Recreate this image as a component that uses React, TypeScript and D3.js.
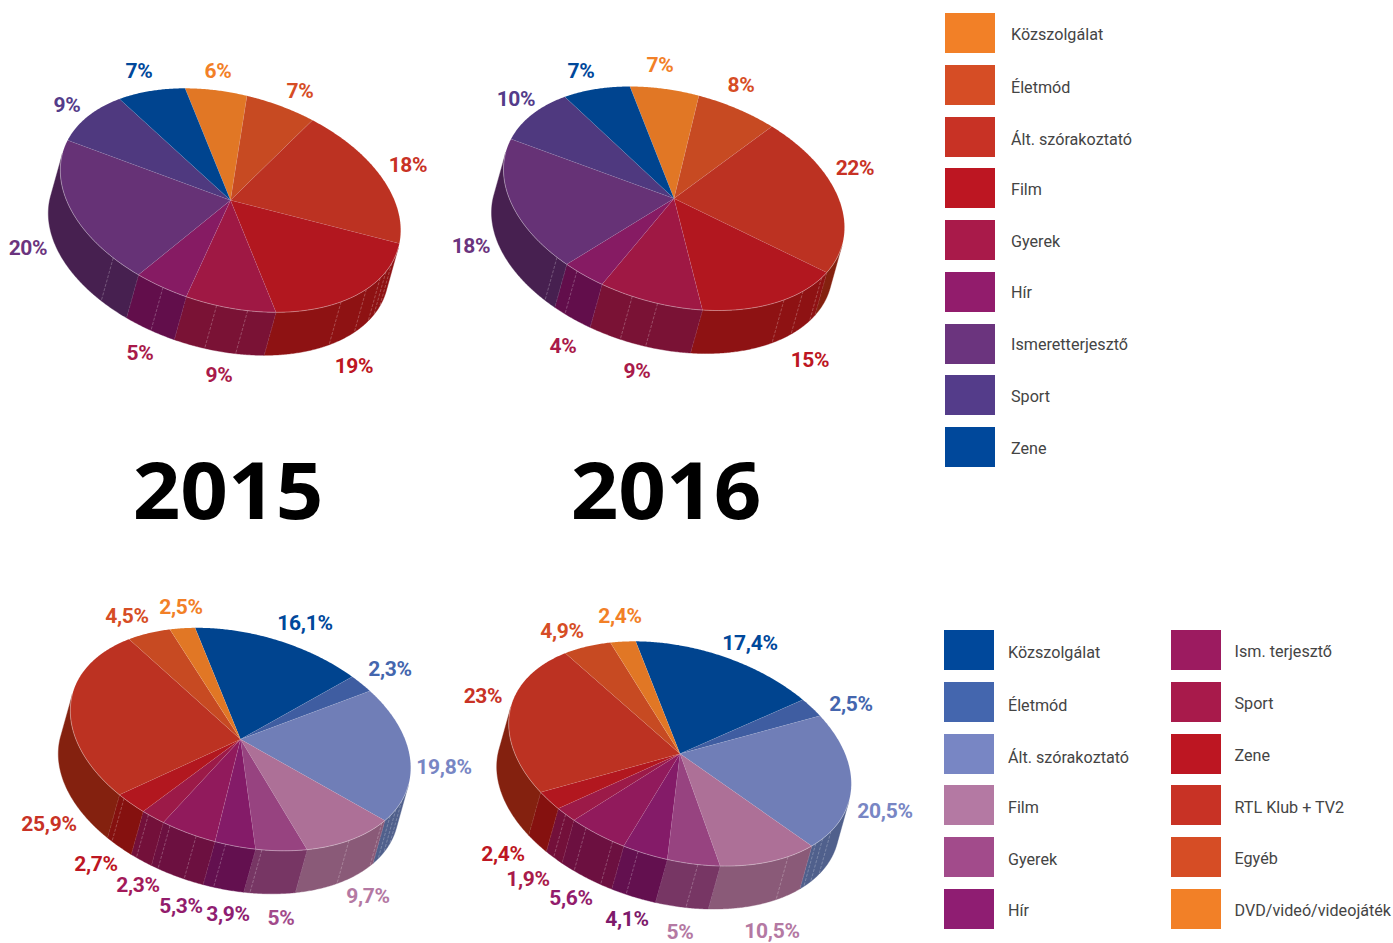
import React from "react";
import * as d3 from "d3";

// ---------- data ----------
const legendTop = ["Közszolgálat", "Életmód", "Ált. szórakoztató", "Film", "Gyerek", "Hír", "Ismeretterjesztő", "Sport", "Zene"];
const legendBottomA = ["Közszolgálat", "Életmód", "Ált. szórakoztató", "Film", "Gyerek", "Hír"];
const legendBottomB = ["Ism. terjesztő", "Sport", "Zene", "RTL Klub + TV2", "Egyéb", "DVD/videó/videojáték"];

// slice shares as measured on the picture (the printed labels are rounded)
const values2015 = [5.85, 6.45, 19, 18.7, 8.5, 4.9, 20.6, 9, 7];
const values2016 = [6.5, 7.4, 22.6, 15, 9.6, 3.9, 18.9, 9.2, 6.9];
const valuesB2015 = [15.7, 2.35, 20.15, 9.7, 5, 3.8, 5.1, 2.2, 2.9, 26.05, 4.55, 2.5];
const valuesB2016 = [16.9, 2.5, 20.8, 10.2, 4.95, 4.15, 5.3, 1.95, 2.55, 23.2, 5, 2.5];

const labels2015 = ["6%", "7%", "18%", "19%", "9%", "5%", "20%", "9%", "7%"];
const labels2016 = ["7%", "8%", "22%", "15%", "9%", "4%", "18%", "10%", "7%"];
const labelsB2015 = ["16,1%", "2,3%", "19,8%", "9,7%", "5%", "3,9%", "5,3%", "2,3%", "2,7%", "25,9%", "4,5%", "2,5%"];
const labelsB2016 = ["17,4%", "2,5%", "20,5%", "10,5%", "5%", "4,1%", "5,6%", "1,9%", "2,4%", "23%", "4,9%", "2,4%"];

// positions of wall seams, as share of the pie (0-100)
const seamsA = [34.5, 36, 37.2, 39.6, 43.05, 52.7, 55.6, 60.8, 66.4];
const seamsB = [37.5, 40.5, 43, 55.7, 58.1, 63.8, 66.2];
const seamsC = [34.5, 36, 37.2, 38.7, 43.3, 52.3, 55.7, 58.5, 61.1, 63.4, 66.3];
const seamsD = [37, 38.5, 39.6, 43.3, 52.5, 58.1, 60.6, 63.4, 65.8];

// ---------- colours ----------
const swatchTop = ["#F28027", "#D64D25", "#C83225", "#BD1622", "#A91A4A", "#921C6C", "#6B347E", "#543C8A", "#00489B"];
const faceTop = ["#E17725", "#C74A22", "#BC3222", "#B2171F", "#9F1844", "#861B63", "#663276", "#4F397F", "#00448F"];
const wallTop = ["#A85A1C", "#94371A", "#84210F", "#8E1213", "#7A1235", "#620E4B", "#472050", "#3A2A5E", "#00306A"];
const labelTop = ["#F28027", "#D64D25", "#C83225", "#BD1622", "#A91A4A", "#A91A4A", "#6B347E", "#543C8A", "#00489B"];

const swatchBottomA = ["#00489B", "#4466AE", "#7886C4", "#B479A3", "#A24B8B", "#8F1D72"];
const swatchBottomB = ["#9C1B60", "#A81A4B", "#BD1622", "#C83225", "#D64D25", "#F28027"];
const faceBottom = ["#00448F", "#3F5DA1", "#707EB7", "#AD7097", "#974380", "#841B68", "#911A5C", "#9C1A48", "#B2171F", "#BC3222", "#C74A22", "#E17725"];
const wallBottom = ["#00306A", "#2E4478", "#50608C", "#8A5A78", "#773664", "#63104F", "#6C1040", "#73103A", "#85110F", "#84210F", "#94371A", "#A85A1C"];
const labelB2015 = ["#00489B", "#4466AE", "#7886C4", "#B479A3", "#A24B8B", "#8F1D72", "#921C6C", "#A31A5A", "#BD1622", "#C83225", "#D64D25", "#F28027"];
const labelB2016 = ["#00489B", "#4466AE", "#7886C4", "#B479A3", "#B479A3", "#7E1A6B", "#921C6C", "#A91A4A", "#BD1622", "#C83225", "#D64D25", "#F28027"];

// ---------- layout ----------
const W = 1393, H = 943;
const DEG = Math.PI / 180;

type PieCfg = {
  values: number[]; labels: string[]; seams: number[];
  face: string[]; wall: string[]; labelColor: string[];
  cx: number; cy: number; sx: number; r: number; q: number; dx: number; dy: number; start: number;
  labelPos: [number, number][];
};

const pies: PieCfg[] = [
  {
    values: values2015, labels: labels2015, seams: seamsA, face: faceTop, wall: wallTop, labelColor: labelTop,
    cx: 230.5, cy: 200.3, sx: 170.2, r: 30, q: 107.9, dx: -12, dy: 43, start: -15.5,
    labelPos: [[218, 71], [300, 91], [408, 165], [354, 366], [219, 375], [140, 353], [28, 248], [67, 105], [139, 71]],
  },
  {
    values: values2016, labels: labels2016, seams: seamsB, face: faceTop, wall: wallTop, labelColor: labelTop,
    cx: 674, cy: 198.5, sx: 170.5, r: 29, q: 108.2, dx: -12, dy: 43, start: -15,
    labelPos: [[660, 65], [741, 85], [855, 168], [810, 360], [637, 371], [563, 346], [471, 246], [516, 99], [581, 71]],
  },
  {
    values: valuesB2015, labels: labelsB2015, seams: seamsC, face: faceBottom, wall: wallBottom, labelColor: labelB2015,
    cx: 240.5, cy: 739.3, sx: 170.2, r: 28.5, q: 107.8, dx: -12, dy: 43, start: -15.5,
    labelPos: [[305, 623], [390, 669], [444, 767], [368, 896], [281, 918], [228, 914], [181, 906], [138, 885], [96, 864], [49, 824], [127, 616], [181, 607]],
  },
  {
    values: valuesB2016, labels: labelsB2016, seams: seamsD, face: faceBottom, wall: wallBottom, labelColor: labelB2016,
    cx: 680, cy: 753.7, sx: 171.3, r: 30, q: 108.3, dx: -12, dy: 43, start: -15,
    labelPos: [[750, 643], [851, 704], [885, 811], [772, 931], [680, 932], [627, 919], [571, 898], [528, 879], [503, 854], [483, 696], [562, 631], [620, 616]],
  },
];

const labelFont = "Roboto, sans-serif";

function Pie({ c }: { c: PieCfg }) {
  const start = c.start * DEG;
  const arcs = d3.pie<number>().sort(null).startAngle(start).endAngle(start + 2 * Math.PI)(c.values);
  const share = d3.scaleLinear().domain([0, 100]).range([start, start + 2 * Math.PI]);
  const pt = (a: number): [number, number] => [
    c.cx + c.sx * Math.sin(a),
    c.cy + c.r * Math.sin(a) - c.q * Math.cos(a),
  ];
  const visible = (a: number) => {
    const tx = c.sx * Math.cos(a), ty = c.r * Math.cos(a) + c.q * Math.sin(a);
    return tx * c.dy - ty * c.dx < 0;
  };
  const line = d3.line();
  const sample = (a0: number, a1: number) => {
    const n = Math.max(2, Math.ceil((a1 - a0) / (0.5 * DEG)));
    return d3.range(n + 1).map((i) => a0 + ((a1 - a0) * i) / n);
  };
  const shift = (p: [number, number]): [number, number] => [p[0] + c.dx, p[1] + c.dy];

  const walls: React.ReactNode[] = [];
  const rims: React.ReactNode[] = [];
  arcs.forEach((d, i) => {
    const vis = sample(d.startAngle, d.endAngle).filter(visible);
    if (vis.length < 2) return;
    const topEdge = vis.map(pt);
    const poly = [...topEdge, ...topEdge.slice().reverse().map(shift)];
    walls.push(<path key={i} d={line(poly) + "Z"} fill={c.wall[i]} stroke={c.wall[i]} strokeWidth={0.4} />);
    rims.push(<path key={"r" + i} d={line(topEdge)!} fill="none" stroke="#fff" strokeOpacity={0.45} strokeWidth={0.7} />);
    const a = d.endAngle;
    if (visible(a)) {
      const p = pt(a);
      walls.push(<path key={"b" + i} d={line([p, shift(p)])!} stroke="#fff" strokeOpacity={0.35} strokeWidth={0.7} strokeDasharray="3 1.5" fill="none" />);
    }
  });

  return (
    <g>
      {walls}
      {c.seams.map((s, i) => {
        const p = pt(share(s));
        return <path key={i} d={line([p, shift(p)])!} stroke="#fff" strokeOpacity={0.35} strokeWidth={0.7} strokeDasharray="3 1.5" fill="none" />;
      })}
      {arcs.map((d, i) => {
        const edge = sample(d.startAngle, d.endAngle).map(pt);
        return (
          <path key={i} d={line([[c.cx, c.cy], ...edge])! + "Z"} fill={c.face[i]} stroke="#fff" strokeOpacity={0.12} strokeWidth={0.5} />
        );
      })}
      {rims}
      {c.labels.map((t, i) => (
        <text key={i} x={c.labelPos[i][0]} y={c.labelPos[i][1] + 6.5} textAnchor="middle" fontFamily={labelFont}
          fontWeight={700} fontSize={21} letterSpacing={-0.3} fill={c.labelColor[i]}>{t}</text>
      ))}
    </g>
  );
}

function Legend({ x, tx, rows, textRows, names, colors }: { x: number; tx: number; rows: number[]; textRows: number[]; names: string[]; colors: string[] }) {
  return (
    <g>
      {names.map((n, i) => (
        <g key={n}>
          <rect x={x} y={rows[i]} width={50} height={40} fill={colors[i]} />
          <text transform={`translate(${tx},${textRows[i]}) scale(0.95,1)`} fontFamily={labelFont} fontSize={17} fill="#444">{n}</text>
        </g>
      ))}
    </g>
  );
}

const rowsTop = [13, 65, 117, 168, 220, 272, 324, 375, 427];
const rowsBottom = [630, 682, 734, 785, 837, 889];
const baseTop = [40, 93, 145, 195, 247, 298, 350, 402, 454];
const baseBottomA = [658, 711, 763, 813, 865, 916];
const baseBottomB = [657, 709, 761, 813, 864, 916];

function Title({ x, t }: { x: number; t: string }) {
  return (
    <text transform={`translate(${x},519) scale(1.055,1)`} textAnchor="middle" fontFamily="'Open Sans', sans-serif" fontWeight={700} fontSize={79} fill="#000">{t}</text>
  );
}

export default function App() {
  return (
    <svg width={W} height={H} style={{ position: "absolute", left: 0, top: 0, display: "block" }}>
      <rect width={W} height={H} fill="#fff" />
      {pies.map((c, i) => <Pie key={i} c={c} />)}
      <Title x={228} t="2015" />
      <Title x={666} t="2016" />
      <Legend x={945} tx={1011} rows={rowsTop} textRows={baseTop} names={legendTop} colors={swatchTop} />
      <Legend x={944} tx={1008} rows={rowsBottom} textRows={baseBottomA} names={legendBottomA} colors={swatchBottomA} />
      <Legend x={1171} tx={1234.5} rows={rowsBottom} textRows={baseBottomB} names={legendBottomB} colors={swatchBottomB} />
    </svg>
  );
}
